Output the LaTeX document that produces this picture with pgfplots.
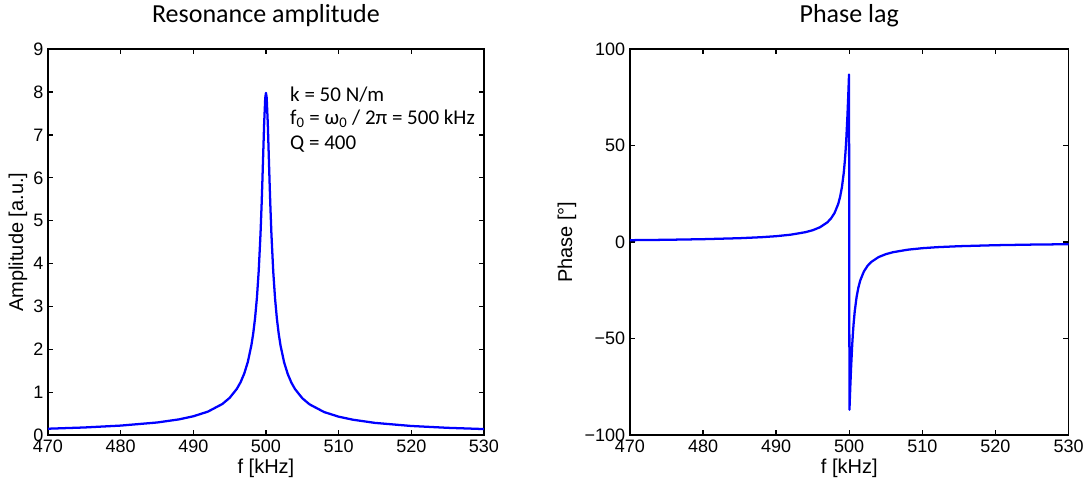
\documentclass[border=0pt]{standalone}
\usepackage{fontspec}
\setmainfont{Liberation Sans}
\newfontfamily\carlito{Carlito}
\usepackage{pgfplots}
\pgfplotsset{compat=1.18}

\pgfplotsset{
  mlstyle/.style={
    scale only axis,
    height=289.5pt,
    xmin=470, xmax=530,
    xtick={470,480,490,500,510,520,530},
    axis line style={line width=1.4pt},
    major tick style={line width=1pt, black},
    major tick length=4pt,
    tick align=inside,
    /pgf/number format/assume math mode=true,
    tick label style={font=\fontsize{13.5}{16}\selectfont},
    label style={font=\fontsize{15}{17}\selectfont},
    xlabel style={at={(axis description cs:0.5,-0.0855)}, anchor=center},
    title style={font=\carlito\fontsize{19.5}{22}\selectfont,
      at={(axis description cs:0.5,1)}, anchor=base, yshift=14pt},
    xlabel={f [kHz]},
  },
}

\begin{document}
\begin{tikzpicture}
\begin{axis}[mlstyle,
  width=327pt,
  ymin=0, ymax=9,
  ytick={0,1,2,3,4,5,6,7,8,9},
  ylabel={Amplitude [a.u.]},
  ylabel style={at={(axis description cs:-0.069,0.5)}, anchor=center},
  title={Resonance amplitude},
]
\addplot[blue, line width=1.7pt, line join=round] coordinates {
 (470,0.149)(475,0.178)(480,0.222)(485,0.294)(488,0.366)(490,0.439)
 (492,0.547)(494,0.726)(495,0.869)(496,1.081)(496.5,1.232)(497,1.430)
 (497.5,1.704)(498,2.102)(498.25,2.377)(498.5,2.730)(498.75,3.194)
 (499,3.825)(499.25,4.699)(499.4,5.375)(499.5,5.891)(499.6,6.447)
 (499.75,7.270)(499.9,7.867)(500,7.98)(500.1,7.867)(500.25,7.264)
 (500.4,6.438)(500.5,5.882)(500.6,5.365)(500.75,4.689)(501,3.815)
 (501.25,3.185)(501.5,2.720)(501.75,2.368)(502,2.093)(502.5,1.695)
 (503,1.422)(503.5,1.223)(504,1.073)(505,0.860)(506,0.717)(508,0.538)
 (510,0.430)(512,0.358)(515,0.285)(520,0.213)(525,0.170)(530,0.141)
};
\node[font=\carlito\fontsize{15.75}{18}\selectfont, anchor=base west, inner sep=0pt]
  at (axis cs:503.3,7.78) {k = 50 N/m};
\node[font=\carlito\fontsize{15.75}{18}\selectfont, anchor=base west, inner sep=0pt]
  at (axis cs:503.3,7.24) {f\textsubscript{0} = ω\textsubscript{0} / 2π = 500 kHz};
\node[font=\carlito\fontsize{15.75}{18}\selectfont, anchor=base west, inner sep=0pt]
  at (axis cs:503.3,6.66) {Q = 400};
\end{axis}

\begin{axis}[mlstyle,
  at={(436.5pt,0pt)},
  width=329pt,
  ymin=-100, ymax=100,
  ytick={-100,-50,0,50,100},
  yticklabels={−100,−50,0,50,100},
  ylabel={Phase [°]},
  ylabel style={at={(axis description cs:-0.1435,0.5)}, anchor=center},
  title={Phase lag},
]
\addplot[blue, line width=1.7pt, line join=round] coordinates {
 (470,1.01)(475,1.21)(480,1.53)(485,2.04)(488,2.56)(490,3.08)(492,3.86)
 (494,5.15)(495,6.17)(496,7.71)(497,10.24)(497.5,12.23)(498,15.17)
 (498.5,19.88)(498.75,23.47)(499,28.50)(499.25,35.90)(499.4,42.15)
 (499.5,47.38)(499.6,53.63)(499.75,65.29)(499.85,74.57)(499.9,79.57)
 (499.95,84.74)(499.97,86.84)
 (500.03,-86.84)(500.05,-84.75)(500.1,-79.57)(500.15,-74.57)
 (500.25,-65.30)(500.4,-53.66)(500.5,-47.41)(500.6,-42.19)(500.75,-35.94)
 (501,-28.55)(501.25,-23.53)(501.5,-19.94)(502,-15.23)(502.5,-12.30)
 (503,-10.30)(504,-7.77)(505,-6.24)(506,-5.21)(508,-3.92)(510,-3.14)
 (512,-2.62)(515,-2.11)(520,-1.59)(525,-1.28)(530,-1.07)
};
\end{axis}
\useasboundingbox (-36pt,-37.5pt) rectangle (780pt,324pt);
\end{tikzpicture}
\end{document}
